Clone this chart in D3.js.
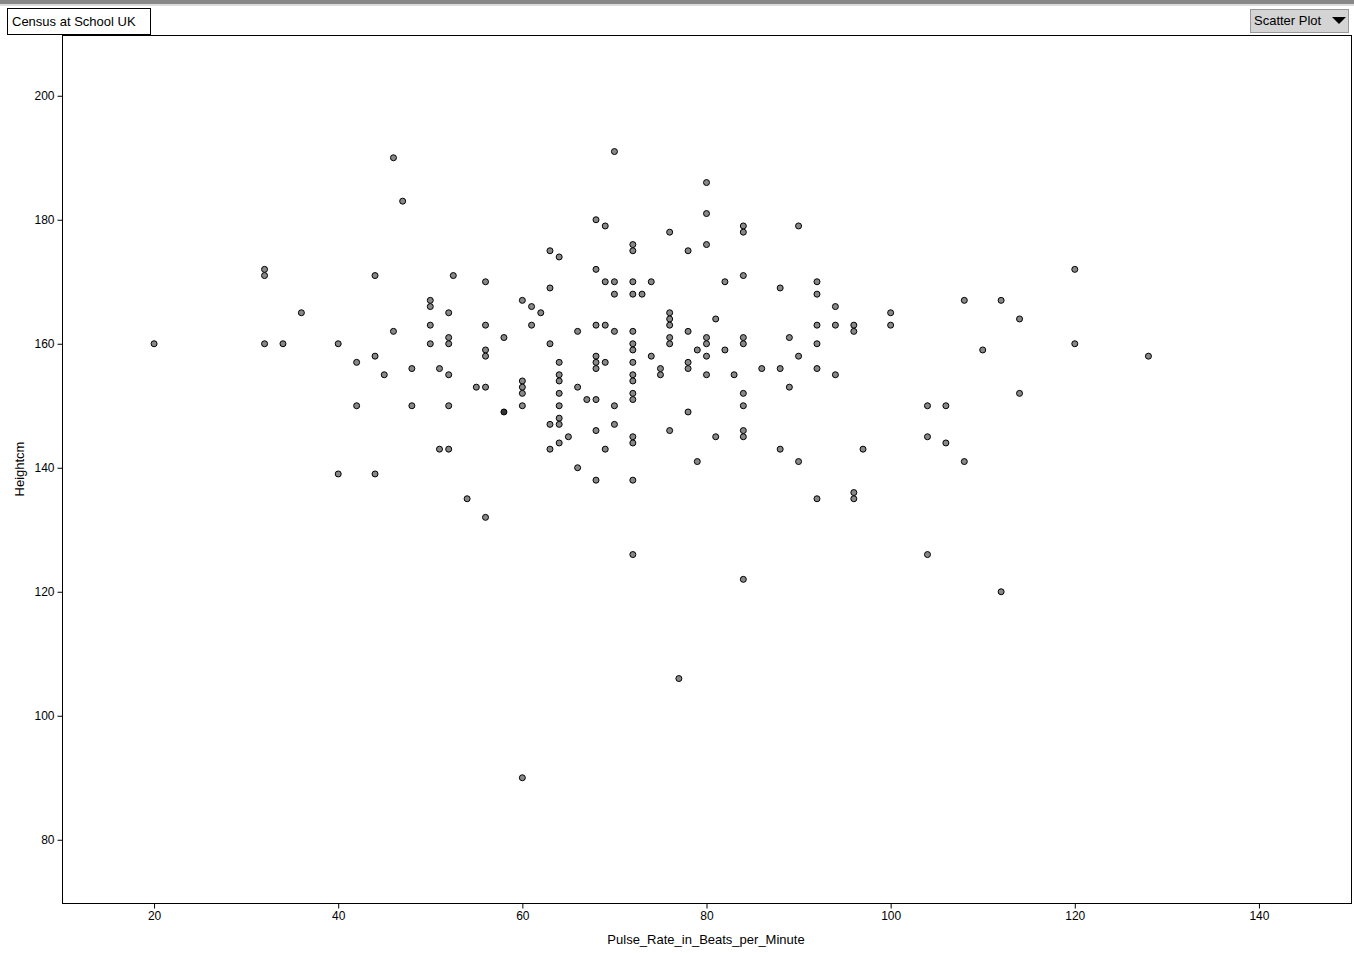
<!DOCTYPE html>
<html><head><meta charset="utf-8">
<script src="https://cdn.jsdelivr.net/npm/d3@7"></script>
<style>body{margin:0;background:#fff;font-family:"Liberation Sans",Arial,sans-serif}</style>
</head><body>
<svg id="c" width="1354" height="953"></svg>
<script>
const title = "Census at School UK";
const xLabel = "Pulse_Rate_in_Beats_per_Minute";
const yLabel = "Heightcm";
const xTicks = [20,40,60,80,100,120,140];
const yTicks = [80,100,120,140,160,180,200];
const pulse = [20,32,32,32,34,36,40,40,42,42,44,44,44,45,46,46,47,48,48,50,50,50,50,51,51,52,52,52,52,52,52,52.5,54,55,56,56,56,56,56,56,58,58,
60,60,60,60,60,60,61,61,62,63,63,63,63,63,64,64,64,64,64,64,64,64,64,65,66,66,66,67,
68,68,68,68,68,68,68,68,68,69,69,69,69,69,70,70,70,70,70,70,
72,72,72,72,72,72,72,72,72,72,72,72,72,72,72,72,73,74,74,75,75,76,76,76,76,76,76,76,77,
78,78,78,78,78,79,79,80,80,80,80,80,80,80,81,81,82,82,83,84,84,84,84,84,84,84,84,84,84,86,
88,88,88,89,89,90,90,90,92,92,92,92,92,92,94,94,94,96,96,96,96,97,100,100,104,104,104,106,106,108,108,110,112,112,114,114,120,120,128];
const height = [160,172,171,160,160,165,160,139,157,150,171,158,139,155,190,162,183,156,150,167,166,163,160,156,143,165,161,160,155,150,143,171,135,153,170,163,159,158,153,132,161,149,
167,154,153,152,150,90,166,163,165,175,169,160,147,143,174,157,155,154,152,150,148,147,144,145,162,153,140,151,
180,172,163,158,157,156,151,146,138,179,170,163,157,143,191,170,168,162,150,147,
176,175,170,168,162,160,159,157,155,154,152,151,145,144,138,126,168,170,158,156,155,178,165,164,163,161,160,146,106,
175,162,157,156,149,159,141,186,181,176,161,160,158,155,164,145,170,159,155,179,178,171,161,160,152,150,146,145,122,156,
169,156,143,161,153,179,158,141,170,168,163,160,156,135,166,163,155,163,162,136,135,143,165,163,150,145,126,150,144,167,141,159,167,120,164,152,172,160,158];

const svg = d3.select("#c");
// top bar
svg.append("rect").attr("x",0).attr("y",0).attr("width",1354).attr("height",4).attr("fill","#888");
svg.append("rect").attr("x",0).attr("y",4).attr("width",1354).attr("height",2).attr("fill","#ddd");
svg.append("rect").attr("x",7.5).attr("y",8.5).attr("width",143).attr("height",26).attr("fill","#fff").attr("stroke","#000");
svg.append("text").attr("x",12).attr("y",26).attr("font-size",13).text(title);
svg.append("rect").attr("x",1250.5).attr("y",9.5).attr("width",98).attr("height",23).attr("fill","#d4d4d4").attr("stroke","#999");
svg.append("text").attr("x",1254).attr("y",25).attr("font-size",13).text("Scatter Plot");
svg.append("path").attr("d","M1332,17 L1346,17 L1339,24 Z").attr("fill","#000");

const x = d3.scaleLinear().domain([10,150]).range([62,1351]);
const y = d3.scaleLinear().domain([69.8,209.8]).range([903,35]);
svg.append("rect").attr("x",62.5).attr("y",35.5).attr("width",1289).attr("height",868).attr("fill","none").attr("stroke","#000");
svg.append("g").attr("transform","translate(0,903.5)").call(d3.axisBottom(x).tickValues(xTicks).tickSize(5).tickSizeOuter(0))
  .call(g=>{g.select(".domain").remove();g.selectAll("text").attr("font-size",12).attr("font-family","Liberation Sans, Arial");});
svg.append("g").attr("transform","translate(62.5,0)").call(d3.axisLeft(y).tickValues(yTicks).tickSize(5).tickSizeOuter(0))
  .call(g=>{g.select(".domain").remove();g.selectAll("text").attr("font-size",12).attr("font-family","Liberation Sans, Arial");});
svg.append("text").attr("x",706).attr("y",944).attr("text-anchor","middle").attr("font-size",13).text(xLabel);
svg.append("text").attr("transform","translate(24,469) rotate(-90)").attr("text-anchor","middle").attr("font-size",13).text(yLabel);

svg.append("g").selectAll("circle").data(pulse.map((p,i)=>[p,height[i]])).join("circle")
  .attr("cx",d=>x(d[0])).attr("cy",d=>y(d[1])).attr("r",3)
  .attr("fill",d=>d[0]===58&&d[1]===149?"#333":"#888").attr("stroke","#000").attr("stroke-width",1);
</script>
</body></html>
